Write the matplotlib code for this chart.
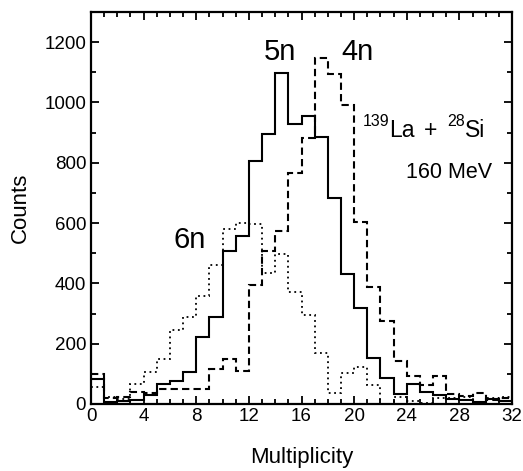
import numpy as np
import matplotlib
matplotlib.use("Agg")
import matplotlib.pyplot as plt
from matplotlib.ticker import MultipleLocator

plt.rcParams['font.family'] = ['Liberation Sans', 'DejaVu Sans']

# multiplicity bins (width 1, 0..32)
edges = np.arange(0, 33)

# counts per bin
counts_5n = [82, 5, 10, 13, 30, 65, 76, 107, 221, 287, 508, 557, 805, 897, 1098, 927,
             955, 886, 682, 431, 317, 151, 85, 32, 65, 39, 30, 17, 13, 8, 17, 11]
counts_4n = [99, 20, 22, 40, 35, 49, 49, 49, 49, 115, 148, 110, 394, 508, 575, 767,
             883, 1148, 1096, 993, 604, 389, 276, 143, 94, 63, 94, 32, 27, 35, 13, 21]
counts_6n = [55, 22, 15, 65, 105, 148, 245, 287, 359, 461, 579, 599, 597, 435, 497, 372,
             295, 168, 35, 102, 124, 63, 0, 24, 10, 2, 19, 19, 24, 8, 19, 22]

fig = plt.figure(figsize=(5.23, 4.71), dpi=100)
ax = fig.add_axes([0.174, 0.1423, 0.805, 0.8322])

ax.stairs(counts_5n, edges, color='black', lw=1.5, baseline=None)
ax.stairs(counts_4n, edges, color='black', lw=1.5, ls=(0, (3.5, 2)), baseline=None)
ax.stairs(counts_6n, edges, color='black', lw=1.3, ls=(0, (1, 2)), baseline=None)

ax.set_xlim(0, 32)
ax.set_ylim(0, 1300)
ax.xaxis.set_major_locator(MultipleLocator(4))
ax.xaxis.set_minor_locator(MultipleLocator(1))
ax.yaxis.set_major_locator(MultipleLocator(200))
ax.yaxis.set_minor_locator(MultipleLocator(100))
ax.tick_params(which='both', direction='in', top=True, right=True, width=1.3,
               labelsize=13.5)
ax.tick_params(which='major', length=6)
ax.tick_params(which='minor', length=3.5)
ax.tick_params(axis='x', pad=3)
for s in ax.spines.values():
    s.set_linewidth(1.6)

ax.set_xlabel('Multiplicity', fontsize=16, labelpad=16)
ax.set_ylabel('Counts', fontsize=16, labelpad=10)

# peak labels
ax.annotate('5n', xy=(280, 471 - 52), xycoords='figure pixels', fontsize=21,
            ha='center', va='center')
ax.annotate('4n', xy=(357, 471 - 52), xycoords='figure pixels', fontsize=21,
            ha='center', va='center')
ax.annotate('6n', xy=(190, 471 - 240), xycoords='figure pixels', fontsize=21,
            ha='center', va='center')

# reaction text, built from pieces so the superscripts sit like the original
base = 471 - 137
sup = 471 - 126
ax.annotate('139', xy=(363, sup), xycoords='figure pixels', fontsize=11.5,
            ha='left', va='baseline')
ax.annotate('La', xy=(389, base), xycoords='figure pixels', fontsize=16.5,
            ha='left', va='baseline')
ax.annotate('+', xy=(424, base), xycoords='figure pixels', fontsize=16.5,
            ha='left', va='baseline')
ax.annotate('28', xy=(447, sup), xycoords='figure pixels', fontsize=11.5,
            ha='left', va='baseline')
ax.annotate('Si', xy=(465, base), xycoords='figure pixels', fontsize=16.5,
            ha='left', va='baseline')
ax.annotate('160 MeV', xy=(492, 471 - 172), xycoords='figure pixels',
            fontsize=15.5, ha='right', va='center')

fig.savefig('out.png', dpi=100)
